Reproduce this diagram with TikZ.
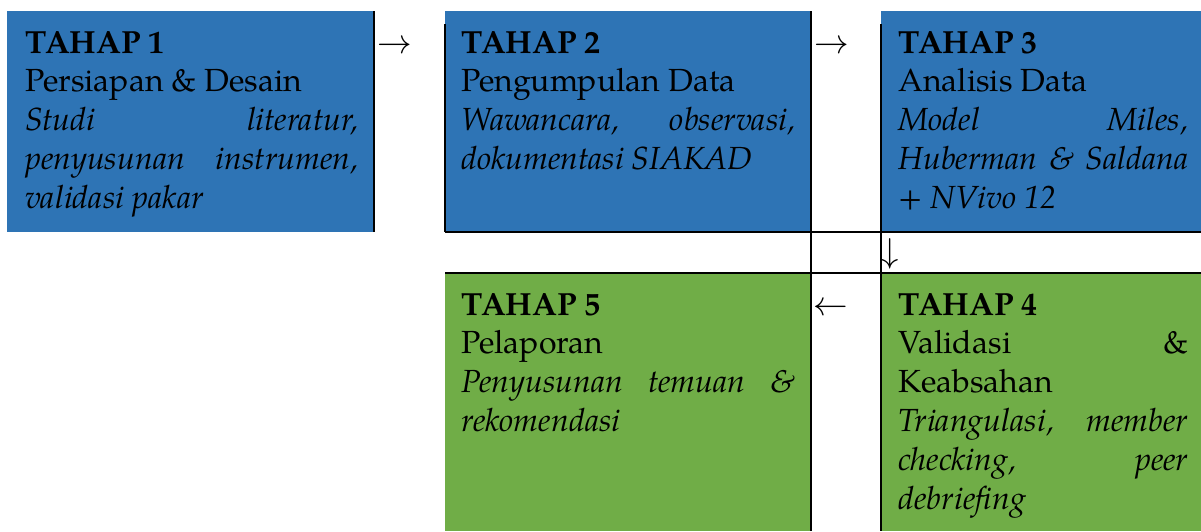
\documentclass[tikz,border=0pt]{standalone}
\usepackage{fontspec}
\setmainfont{TeX Gyre Pagella}
\usepackage{tikz}
\usepackage{xcolor}
\definecolor{tahapblue}{HTML}{2E74B5}
\definecolor{tahapgreen}{HTML}{70AD47}

\begin{document}
\begin{tikzpicture}[x=.5pt,y=-.5pt]
  \tikzset{font={\fontsize{16pt}{19.4pt}\selectfont},
    tahap/.style={anchor=base west,inner sep=0pt,text width=#1,align=justify},
    panah/.style={inner sep=0pt},
    garis/.style={line width=1.2pt},
    garistipis/.style={line width=.7pt}}
  \useasboundingbox (0,0) rectangle (1201,531);
  \fill[tahapblue] (7,11) rectangle (374,232);
  \fill[tahapblue] (445,11) rectangle (811,232);
  \fill[tahapblue] (881,11) rectangle (1201,232);
  \fill[tahapgreen] (445,273) rectangle (811,531);
  \fill[tahapgreen] (881,273) rectangle (1201,531);
  \draw[garis] (374,11)--(374,232);
  \draw[garis] (445,24)--(445,232);
  \draw[garis] (811,11)--(811,531);
  \draw[garis] (881,24)--(881,531);
  \draw[garis] (445,232)--(1201,232);
  \draw[garistipis] (445,273)--(1201,273);
  \node[tahap=166.5pt] (t1) at (25,53) {\textbf{TAHAP 1}\\ Persiapan \& Desain\\
    \textit{Studi literatur,\linebreak penyusunan instrumen,\linebreak validasi pakar}};
  \node[tahap=167pt] (t2) at (461,53) {\textbf{TAHAP 2}\\ Pengumpulan Data\\
    \textit{Wawancara, observasi,\linebreak dokumentasi SIAKAD}};
  \node[tahap=145pt] (t3) at (898,53) {\textbf{TAHAP 3}\\ Analisis Data\\
    \textit{Model Miles,\linebreak Huberman \& Saldana\linebreak + NVivo 12}};
  \node[tahap=145pt] (t4) at (898,315) {\textbf{TAHAP 4}\\ Validasi \&\linebreak Keabsahan\\
    \textit{Triangulasi, member\linebreak checking, peer\linebreak debriefing}};
  \node[tahap=167pt] (t5) at (461,315) {\textbf{TAHAP 5}\\ Pelaporan\\
    \textit{Penyusunan temuan \&\linebreak rekomendasi}};
  \node[panah,anchor=base west] (p12) at (377,53) {$\rightarrow$};
  \node[panah,anchor=base west] (p23) at (814,53) {$\rightarrow$};
  \node[panah] (p34) at (890,254) {$\downarrow$};
  \node[panah,anchor=base west] (p45) at (813,315) {$\leftarrow$};
\end{tikzpicture}
\end{document}
